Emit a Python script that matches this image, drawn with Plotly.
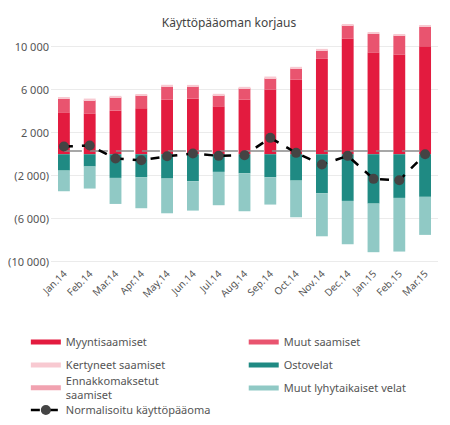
import plotly.graph_objects as go

months = ["Jan.14", "Feb.14", "Mar.14", "Apr.14", "May.14", "Jun.14", "Jul.14", "Aug.14",
          "Sep.14", "Oct.14", "Nov.14", "Dec.14", "Jan.15", "Feb.15", "Mar.15"]

myyntisaamiset = [3900, 3800, 4060, 4280, 5090, 5180, 4460, 5090, 6020, 6950, 8870, 10760, 9430, 9270, 10040]
muut_saamiset = [1250, 1230, 1240, 1180, 1230, 1140, 1030, 1050, 1050, 1050, 800, 1240, 1770, 1770, 1810]
kertyneet_saamiset = [150, 150, 130, 120, 140, 130, 130, 130, 160, 130, 130, 100, 120, 120, 120]
ennakkomaksetut = [0, 0, 0, 0, 0, 0, 0, 0, 0, 0, 0, 0, 0, 0, 0]
ostovelat = [-1520, -1140, -2200, -2130, -2260, -2510, -1640, -1770, -2140, -2450, -3630, -4340, -4590, -4060, -3960]
muut_lyhyt = [-1920, -2050, -2420, -2890, -3230, -2730, -3100, -3530, -2540, -3410, -4000, -4030, -4520, -4990, -3540]
normalisoitu = [720, 820, -400, -560, -185, 65, -150, -90, 1525, 130, -960, -150, -2290, -2420, 0]
vertailu = [300] * 15

ytick_vals = [10000, 6000, 2000, -2000, -6000, -10000]
ytick_text = ["10 000", "6 000", "2 000", "(2 000)", "(6 000)", "(10 000)"]

# (name, values, colour, which legend box)
bars = [
    ("Myyntisaamiset", myyntisaamiset, "#E31B3F", "legend"),
    ("Muut saamiset", muut_saamiset, "#E9546F", "legend2"),
    ("Kertyneet saamiset", kertyneet_saamiset, "#F8C9D1", "legend"),
    ("Ennakkomaksetut<br>saamiset", ennakkomaksetut, "#F1A2B0", "legend3"),
    ("Ostovelat", ostovelat, "#1F8A83", "legend2"),
    ("Muut lyhytaikaiset velat", muut_lyhyt, "#90C9C5", "legend2"),
]

fig = go.Figure()

for name, vals, col, leg in bars:
    fig.add_trace(go.Bar(x=months, y=vals, name=name, marker_color=col,
                         marker_line_width=0, legendgroup=name, showlegend=False))
    # wide legend swatch
    fig.add_trace(go.Scatter(x=[None], y=[None], mode="lines", name=name, legendgroup=name,
                             legend=leg, line=dict(color=col, width=5)))

fig.add_trace(go.Scatter(x=months, y=vertailu, mode="lines", showlegend=False,
                         line=dict(color="#8A8A8A", width=1.5, dash="18px,8px")))

fig.add_trace(go.Scatter(x=months, y=normalisoitu, mode="lines+markers",
                         name="Normalisoitu käyttöpääoma", legend="legend4",
                         line=dict(color="black", width=2.5, dash="dash"),
                         marker=dict(color="#444444", size=10)))

leg_style = dict(xanchor="left", yanchor="middle", tracegroupgap=4, traceorder="grouped",
                 font=dict(size=11, color="#555555"), bgcolor="rgba(0,0,0,0)")

fig.update_layout(
    width=442, height=417,
    barmode="relative", bargap=0.54,
    plot_bgcolor="white", paper_bgcolor="white",
    margin=dict(l=43, r=12, t=14, b=160, autoexpand=False),
    font=dict(family="Noto Sans", size=11, color="#555555"),
    title=dict(text="Käyttöpääoman korjaus", x=0.5, xanchor="center", y=0.975,
               font=dict(size=12, color="#444444")),
    xaxis=dict(tickangle=-45, tickfont=dict(size=10), showgrid=False, showline=False,
               range=[-0.5, 14.5]),
    yaxis=dict(range=[-10300, 12300], tickvals=ytick_vals, ticktext=ytick_text,
               gridcolor="#EBEBEB", zeroline=False, tickfont=dict(size=11),
               ticklabelstandoff=1),
    legend=dict(x=-0.065, y=-0.364, **leg_style),
    legend2=dict(x=0.498, y=-0.4115, **leg_style),
    legend3=dict(x=-0.065, y=-0.506, **leg_style),
    legend4=dict(x=-0.065, y=-0.597, **leg_style),
)

fig.write_html("out.html")
